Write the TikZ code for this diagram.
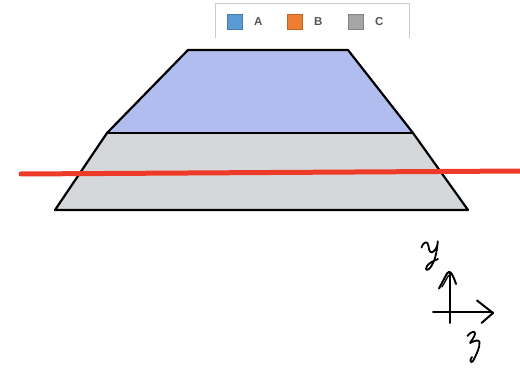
\documentclass[tikz,border=0pt]{standalone}
\usepackage{fontspec}
\setmainfont{Liberation Sans}
\definecolor{topfill}{HTML}{B1BDEE}
\definecolor{botfill}{HTML}{D4D8DA}
\definecolor{redline}{HTML}{EE3A28}
\definecolor{colA}{HTML}{5B9BD5}
\definecolor{colB}{HTML}{ED7D31}
\definecolor{colC}{HTML}{A5A5A5}
\definecolor{legtext}{HTML}{555555}
\definecolor{legborder}{HTML}{CCCCCC}
\begin{document}
\begin{tikzpicture}[x=1pt,y=-1pt,
  outline/.style={draw=black,line width=2.2pt,line join=round},
  hand/.style={draw=black,line width=2pt,line cap=round,line join=round},
  swatch/.style={minimum width=15pt,minimum height=15pt,inner sep=0pt,draw=#1!80!black,fill=#1,line width=0.6pt},
  legtxt/.style={font=\bfseries\fontsize{11.5}{13}\selectfont,text=legtext,anchor=west,inner sep=0pt}]
\useasboundingbox (0,0) rectangle (520,371);
% legend frame
\draw[legborder,line width=1pt] (215,38) -- (215,3.5) -- (409,3.5) -- (409,38);
\node[swatch=colA] (sa) at (235,21.5) {};
\node[legtxt] (ta) at (254,21.5) {A};
\node[swatch=colB] (sb) at (295,21.5) {};
\node[legtxt] (tb) at (314,21.5) {B};
\node[swatch=colC] (sc) at (356,21.5) {};
\node[legtxt] (tc) at (375,21.5) {C};
% trapezoid
\path[fill=botfill] (107,133) -- (413,133) -- (468,210) -- (55,210) -- cycle;
\path[fill=topfill] (188,50) -- (348,50) -- (413,133) -- (107,133) -- cycle;
\draw[outline] (188,50) -- (348,50) -- (413,133) -- (468,210) -- (55,210) -- (107,133) -- cycle;
\draw[outline] (107,133) -- (413,133);
% red line
\draw[redline,line width=5pt,line cap=round] (21,174) -- (522,171);
% axes
\draw[hand] (450,272) -- (450,323);
\draw[hand] (433,312) -- (492,312);
\draw[hand] (477,300.5) -- (493,313) -- (481.5,323);
\draw[hand] (439,288.5) -- (447,273.5) .. controls (449.5,270) and (452,272) .. (456,284);
\draw[hand,line width=1.3pt] (442,287) -- (448.5,275.5);
% handwritten y
\draw[hand,line width=1.8pt] (421.5,247.5) .. controls (423,242) and (428,240) .. (428.5,246)
  .. controls (429,252) and (431,254) .. (434,251) .. controls (437,248) and (438,244) .. (437.7,241.3)
  .. controls (437,252) and (435,260) .. (432,265) .. controls (428,272) and (424,271) .. (427,266)
  .. controls (429,263) and (433,261) .. (438,259);
% handwritten z
\draw[hand,line width=1.8pt] (467.5,336) .. controls (470,332) and (476,330) .. (475,334)
  .. controls (474,338) and (471,341) .. (470,343) .. controls (474,341) and (479,339) .. (479.5,342)
  .. controls (480,348) and (476,355) .. (473,361) .. controls (471,364) and (469,360) .. (472,357);
\end{tikzpicture}
\end{document}
